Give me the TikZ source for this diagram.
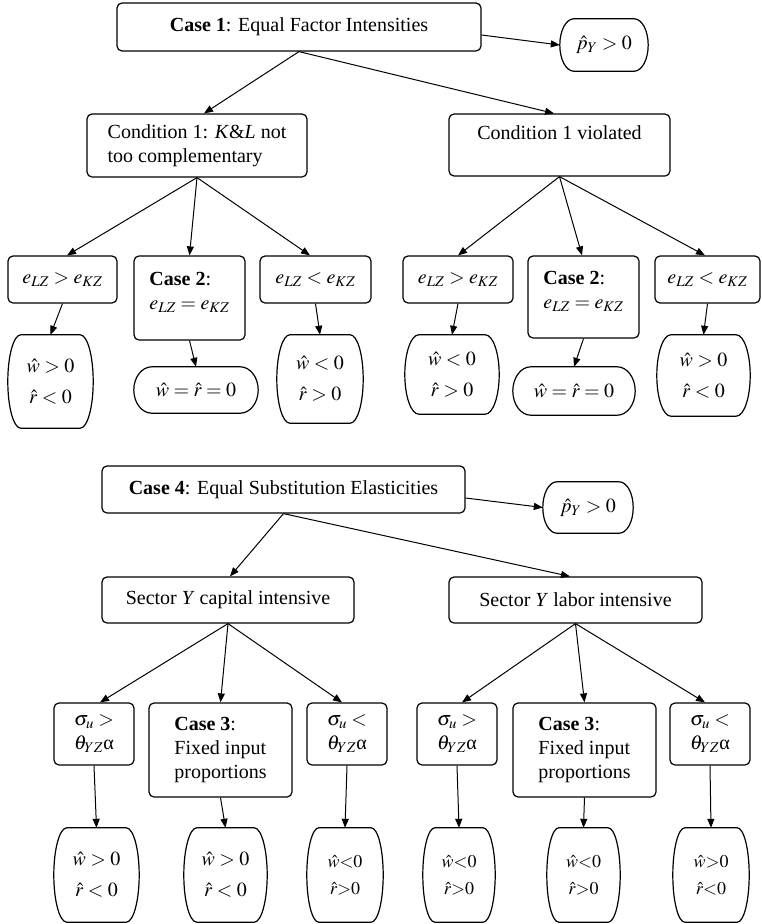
\documentclass[tikz,border=0pt]{standalone}
\usepackage{mathptmx}
\usepackage{fontspec}
\setmainfont{Liberation Serif}
\usetikzlibrary{arrows.meta,calc}
\tikzset{
  boxline/.style={line width=1.2pt},
  rbox/.style={draw, boxline, rounded corners=5pt, inner sep=0pt, align=center},
  lbox/.style={rbox, align=left},
  tbox/.style={inner sep=0pt, align=center},
  conn/.style={line width=1pt, -{Triangle[length=9pt,width=7pt]}},
  smallres/.style={font=\fontsize{18}{21}\selectfont},
}
\newcommand\termshape[2]{%
  \draw[boxline] let \p1=(#1.north west), \p2=(#1.south east), \n1={(\y1-\y2)/2} in
    (\x1+#2pt,\y1) -- (\x2-#2pt,\y1)
    arc[start angle=90, end angle=-90, x radius=#2pt, y radius={\n1*1pt}]
    -- (\x1+#2pt,\y2)
    arc[start angle=270, end angle=90, x radius=#2pt, y radius={\n1*1pt}]
    -- cycle;}
\begin{document}
\begin{tikzpicture}[x=1pt, y=-1pt, font=\fontsize{20}{24}\selectfont]
\useasboundingbox (0,0) rectangle (762,924);

% ---------- upper tree ----------
\node[rbox, minimum width=364pt, minimum height=48pt] (c1) at (299,27) {\textbf{Case 1}: Equal Factor Intensities};
\node[tbox, minimum width=88pt, minimum height=52pt] (py1) at (604,45) {$\hat{p}_Y > 0$};
\termshape{py1}{14}

\node[lbox, minimum width=220pt, minimum height=63pt] (cond1) at (197,145.5) {Condition 1: \textit{K}\&\textit{L} not\\ too complementary};
\node[rbox, minimum width=221pt, minimum height=62pt] (viol) at (559.5,145) {Condition 1 violated\\ \phantom{x}};

\node[rbox, minimum width=109pt, minimum height=47pt] (e1g) at (62.5,279.5) {$e_{LZ} > e_{KZ}$};
\node[lbox, minimum width=111pt, minimum height=84pt] (c2a) at (189.5,298) {\textbf{Case 2}:\\ $e_{LZ} = e_{KZ}$\rule[-14pt]{0pt}{0pt}};
\node[rbox, minimum width=111pt, minimum height=47pt] (e1l) at (315.5,279.5) {$e_{LZ} < e_{KZ}$};

\node[rbox, minimum width=110pt, minimum height=47pt] (e2g) at (458,279.5) {$e_{LZ} > e_{KZ}$};
\node[lbox, minimum width=111pt, minimum height=82pt] (c2b) at (583.5,297) {\textbf{Case 2}:\\ $e_{LZ} = e_{KZ}$\rule[-14pt]{0pt}{0pt}};
\node[rbox, minimum width=105pt, minimum height=47pt] (e2l) at (707.5,279.5) {$e_{LZ} < e_{KZ}$};

\node[tbox, minimum width=85pt, minimum height=93pt] (r1) at (50.5,381.5) {$\hat{w} > 0$\\[7pt] $\hat{r} < 0$};
\node[tbox, minimum width=124pt, minimum height=46pt] (r2) at (196,390) {$\hat{w} = \hat{r} = 0$};
\node[tbox, minimum width=86pt, minimum height=88pt] (r3) at (320,379) {$\hat{w} < 0$\\[7pt] $\hat{r} > 0$};
\node[tbox, minimum width=94pt, minimum height=79pt] (r4) at (452,374.5) {$\hat{w} < 0$\\[7pt] $\hat{r} > 0$};
\node[tbox, minimum width=122pt, minimum height=48pt] (r5) at (574,391) {$\hat{w} = \hat{r} = 0$};
\node[tbox, minimum width=93pt, minimum height=81pt] (r6) at (703.5,375.5) {$\hat{w} > 0$\\[7pt] $\hat{r} < 0$};
\termshape{r1}{13}
\termshape{r2}{18}
\termshape{r3}{13}
\termshape{r4}{14}
\termshape{r5}{18}
\termshape{r6}{14}

\draw[conn] (c1.south) -- ([xshift=7pt]cond1.north);
\draw[conn] (c1.south) -- ([xshift=-5.5pt]viol.north);
\draw[conn] ([yshift=-8pt]c1.east) -- (py1.west);
\draw[conn] (cond1.south) -- ([xshift=4.5pt]e1g.north);
\draw[conn] (cond1.south) -- (c2a.north);
\draw[conn] (cond1.south) -- ([xshift=-5.5pt]e1l.north);
\draw[conn] (viol.south) -- (e2g.north);
\draw[conn] (viol.south) -- ([xshift=-1.5pt]c2b.north);
\draw[conn] (viol.south) -- ([xshift=-2.5pt]e2l.north);
\draw[conn] (e1g.south) -- (r1.north);
\draw[conn] (c2a.south) -- (r2.north);
\draw[conn] (e1l.south) -- (r3.north);
\draw[conn] (e2g.south) -- (r4.north);
\draw[conn] (c2b.south) -- (r5.north);
\draw[conn] (e2l.south) -- (r6.north);

% ---------- lower tree ----------
\node[rbox, minimum width=363pt, minimum height=47pt] (c4) at (283.5,489.5) {\textbf{Case 4}: Equal Substitution Elasticities};
\node[tbox, minimum width=90pt, minimum height=51pt] (py2) at (588,507.5) {$\hat{p}_Y > 0$};
\termshape{py2}{14}

\node[rbox, minimum width=252pt, minimum height=46pt] (seck) at (228,600) {Sector \textit{Y} capital intensive};
\node[rbox, minimum width=253pt, minimum height=46pt] (secl) at (575.5,600) {Sector \textit{Y} labor intensive};

\node[lbox, minimum width=80pt, minimum height=62pt] (s1g) at (94,734) {$\sigma_u >$\\ $\theta_{YZ}$α};
\node[lbox, minimum width=143pt, minimum height=94pt] (c3a) at (220.5,750) {\textbf{Case 3}:\\ Fixed input\\ proportions};
\node[lbox, minimum width=80pt, minimum height=62pt] (s1l) at (347,734) {$\sigma_u <$\\ $\theta_{YZ}$α};
\node[lbox, minimum width=80pt, minimum height=62pt] (s2g) at (457,734) {$\sigma_u >$\\ $\theta_{YZ}$α};
\node[lbox, minimum width=143pt, minimum height=94pt] (c3b) at (584.5,750) {\textbf{Case 3}:\\ Fixed input\\ proportions};
\node[lbox, minimum width=80pt, minimum height=62pt] (s2l) at (710,734) {$\sigma_u <$\\ $\theta_{YZ}$α};

\node[tbox, minimum width=85pt, minimum height=94pt] (q1) at (96.5,875) {$\hat{w} > 0$\\[7pt] $\hat{r} < 0$};
\node[tbox, minimum width=83pt, minimum height=94pt] (q2) at (225.5,875) {$\hat{w} > 0$\\[7pt] $\hat{r} < 0$};
\node[tbox, smallres, minimum width=76pt, minimum height=94pt] (q3) at (345,875) {$\hat{w}{<}0$\\[6pt] $\hat{r}{>}0$};
\node[tbox, smallres, minimum width=72pt, minimum height=94pt] (q4) at (459,875) {$\hat{w}{<}0$\\[6pt] $\hat{r}{>}0$};
\node[tbox, smallres, minimum width=73pt, minimum height=94pt] (q5) at (583.5,875) {$\hat{w}{<}0$\\[6pt] $\hat{r}{>}0$};
\node[tbox, smallres, minimum width=76pt, minimum height=94pt] (q6) at (711,875) {$\hat{w}{>}0$\\[6pt] $\hat{r}{<}0$};
\termshape{q1}{13}
\termshape{q2}{13}
\termshape{q3}{12}
\termshape{q4}{12}
\termshape{q5}{12}
\termshape{q6}{12}

\draw[conn] (c4.south) -- ([xshift=2pt]seck.north);
\draw[conn] (c4.south) -- ([xshift=-5.5pt]secl.north);
\draw[conn] ([yshift=-8.5pt]c4.east) -- (py2.west);
\draw[conn] (seck.south) -- ([xshift=6pt]s1g.north);
\draw[conn] (seck.south) -- (c3a.north);
\draw[conn] (seck.south) -- ([xshift=-5pt]s1l.north);
\draw[conn] (secl.south) -- ([xshift=5pt]s2g.north);
\draw[conn] (secl.south) -- (c3b.north);
\draw[conn] (secl.south) -- ([xshift=-5pt]s2l.north);
\draw[conn] (s1g.south) -- (q1.north);
\draw[conn] (c3a.south) -- (q2.north);
\draw[conn] (s1l.south) -- (q3.north);
\draw[conn] (s2g.south) -- (q4.north);
\draw[conn] (c3b.south) -- (q5.north);
\draw[conn] (s2l.south) -- (q6.north);
\end{tikzpicture}
\end{document}
